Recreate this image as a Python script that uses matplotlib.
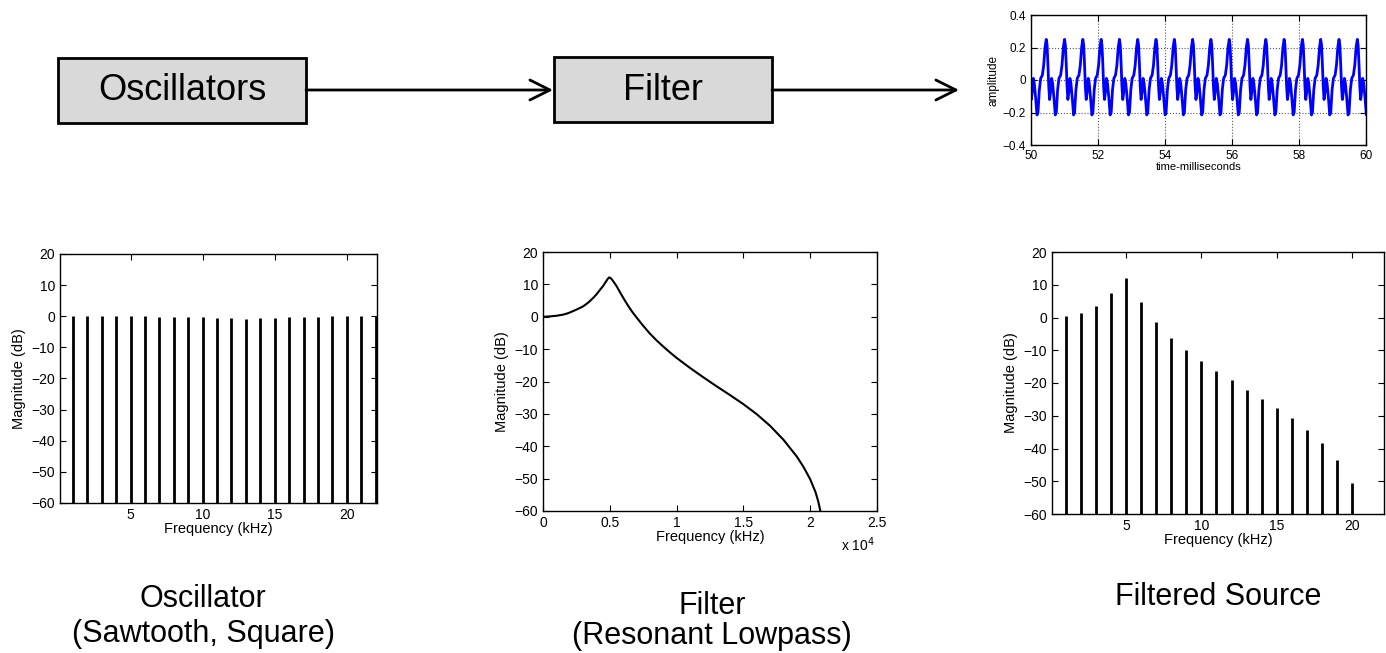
import numpy as np
import matplotlib
matplotlib.use('Agg')
import matplotlib.pyplot as plt
from matplotlib.patches import Rectangle
from matplotlib.ticker import FuncFormatter

plt.rcParams['font.family'] = ['Liberation Sans', 'DejaVu Sans']

W, H = 1386, 653

# oscillator spectrum (harmonic number in kHz, level in dB)
osc_khz = list(range(1, 23))
osc_db = [0, 0, 0, 0, 0, 0, -0.2, -0.2, -0.3, -0.4, -0.5, -0.6,
          -0.9, -0.7, -0.5, -0.3, -0.2, -0.2, 0, 0, 0, 0]

# resonant lowpass response
filter_hz = [0, 500, 1000, 1500, 1800, 2000, 2500, 3000, 3300, 3500, 3800,
             4000, 4300, 4500, 4700, 4850, 4950, 5050, 5200, 5500, 5800,
             6100, 6400, 6700, 7000, 7500, 8000, 8500, 9000, 9500, 10000,
             11000, 12000, 13000, 14000, 15000, 16000, 17000, 18000, 19000,
             19500, 20000, 20400, 20600, 20760]
filter_db = [0, 0.1, 0.3, 0.65, 1.0, 1.3, 2.2, 3.2, 4.1, 4.8, 6.0,
             6.9, 8.5, 9.5, 10.8, 11.7, 12.15, 12.0, 11.3, 9.5, 7.3,
             5.2, 3.2, 1.4, -0.2, -2.8, -5.2, -7.3, -9.2, -11.0, -12.7,
             -15.8, -18.7, -21.5, -24.2, -27.0, -30.1, -33.7, -38.0, -43.2,
             -46.4, -50.2, -54.2, -57.0, -60.0]

# filtered source spectrum
src_khz = list(range(1, 21))
src_db = [0.5, 1.5, 3.6, 7.6, 12.2, 4.7, -1.5, -6.3, -10.0, -13.2,
          -16.3, -19.1, -22.1, -24.8, -27.6, -30.7, -34.3, -38.4, -43.5, -50.5]

# one cycle of the output waveform (offset in ms, amplitude), repeated
cycle_ms = [0.000, 0.025, 0.050, 0.075, 0.100, 0.125, 0.160, 0.190, 0.230,
            0.270, 0.300, 0.340, 0.380, 0.430, 0.470, 0.510]
cycle_amp = [0.250, 0.215, 0.100, -0.040, -0.120, -0.080, 0.010, -0.020,
             -0.110, -0.215, -0.200, -0.060, 0.010, 0.030, 0.090, 0.200]
period_ms = 0.5462
first_peak_ms = 50.455


def rect(l, t, r, b):
    return [l / W, 1 - b / H, (r - l) / W, (b - t) / H]


def matlab_axes(ax, fs):
    ax.tick_params(direction='in', top=True, right=True, length=4,
                   labelsize=fs, width=0.8)
    for s in ax.spines.values():
        s.set_linewidth(1.0)


fig = plt.figure(figsize=(W / 100, H / 100), dpi=100)

# block diagram layer
ax0 = fig.add_axes([0, 0, 1, 1])
ax0.set_xlim(0, W)
ax0.set_ylim(H, 0)
ax0.axis('off')

ax0.add_patch(Rectangle((58, 58), 248, 65, fc='#d9d9d9', ec='black', lw=2))
ax0.text(182, 91, 'Oscillators', ha='center', va='center', fontsize=26)
ax0.add_patch(Rectangle((554, 57), 218, 65, fc='#d9d9d9', ec='black', lw=2))
ax0.text(663, 90, 'Filter', ha='center', va='center', fontsize=26)

arrow = dict(arrowstyle='->,head_length=0.8,head_width=0.4', lw=2,
             mutation_scale=18, shrinkA=0, shrinkB=0, color='black')
ax0.annotate('', xy=(553, 90), xytext=(306, 90), arrowprops=arrow)
ax0.annotate('', xy=(959, 90), xytext=(772, 90), arrowprops=arrow)

ax0.text(203, 599, 'Oscillator', ha='center', va='center', fontsize=22)
ax0.text(203, 634, '(Sawtooth, Square)', ha='center', va='center', fontsize=22)
ax0.text(712, 606, 'Filter', ha='center', va='center', fontsize=22)
ax0.text(712, 636, '(Resonant Lowpass)', ha='center', va='center', fontsize=22)
ax0.text(1218, 597, 'Filtered Source', ha='center', va='center', fontsize=22)

# waveform
ax1 = fig.add_axes(rect(1031, 15, 1366, 145))
n_cycles = 21
t = np.concatenate([np.array(cycle_ms) + first_peak_ms + (k - 1) * period_ms
                    for k in range(n_cycles)])
a = np.tile(cycle_amp, n_cycles)
ax1.plot(t, a, color='#0000ff', lw=2)
ax1.set_xlim(50, 60)
ax1.set_ylim(-0.4, 0.4)
ax1.set_xticks(range(50, 61, 2))
ax1.set_yticks([-0.4, -0.2, 0, 0.2, 0.4])
ax1.yaxis.set_major_formatter(FuncFormatter(lambda v, p: f'{v:g}'.replace('-', '\u2212')))
ax1.grid(True, linestyle=':', color='#555555', lw=0.8)
ax1.set_xlabel('time-milliseconds', fontsize=8, labelpad=0)
ax1.set_ylabel('amplitude', fontsize=8.5, labelpad=2)
matlab_axes(ax1, 8.5)

# oscillator spectrum
ax2 = fig.add_axes(rect(60, 254, 377, 503))
ax2.vlines(osc_khz, -60, osc_db, color='black', lw=2)
ax2.set_xlim(0.1, 22.1)
ax2.set_ylim(-60, 20)
ax2.set_xticks([5, 10, 15, 20])
ax2.set_yticks(range(-60, 21, 10))
ax2.set_xlabel('Frequency (kHz)', fontsize=10.5, labelpad=0)
ax2.set_ylabel('Magnitude (dB)', fontsize=10.5)
matlab_axes(ax2, 10)

# filter response
ax3 = fig.add_axes(rect(543, 252, 877, 511))
ax3.plot(filter_hz, filter_db, color='black', lw=1.5)
ax3.set_xlim(0, 25000)
ax3.set_ylim(-60, 20)
ax3.set_xticks(range(0, 25001, 5000))
ax3.xaxis.set_major_formatter(FuncFormatter(lambda v, p: f'{v / 1e4:g}'))
ax3.set_yticks(range(-60, 21, 10))
ax3.set_xlabel('Frequency (kHz)', fontsize=10.5, labelpad=0)
ax3.set_ylabel('Magnitude (dB)', fontsize=10.5)
ax3.text(0.995, -0.13, r'x 10$^4$', transform=ax3.transAxes, ha='right',
         va='center', fontsize=10)
matlab_axes(ax3, 10)

# filtered source spectrum
ax4 = fig.add_axes(rect(1052, 252, 1384, 514))
ax4.vlines(src_khz, -60, src_db, color='black', lw=2)
ax4.set_xlim(0.1, 22.1)
ax4.set_ylim(-60, 20)
ax4.set_xticks([5, 10, 15, 20])
ax4.set_yticks(range(-60, 21, 10))
ax4.set_xlabel('Frequency (kHz)', fontsize=10.5, labelpad=0)
ax4.set_ylabel('Magnitude (dB)', fontsize=10.5)
matlab_axes(ax4, 10)

fig.savefig('out.png', dpi=100, facecolor='white')
